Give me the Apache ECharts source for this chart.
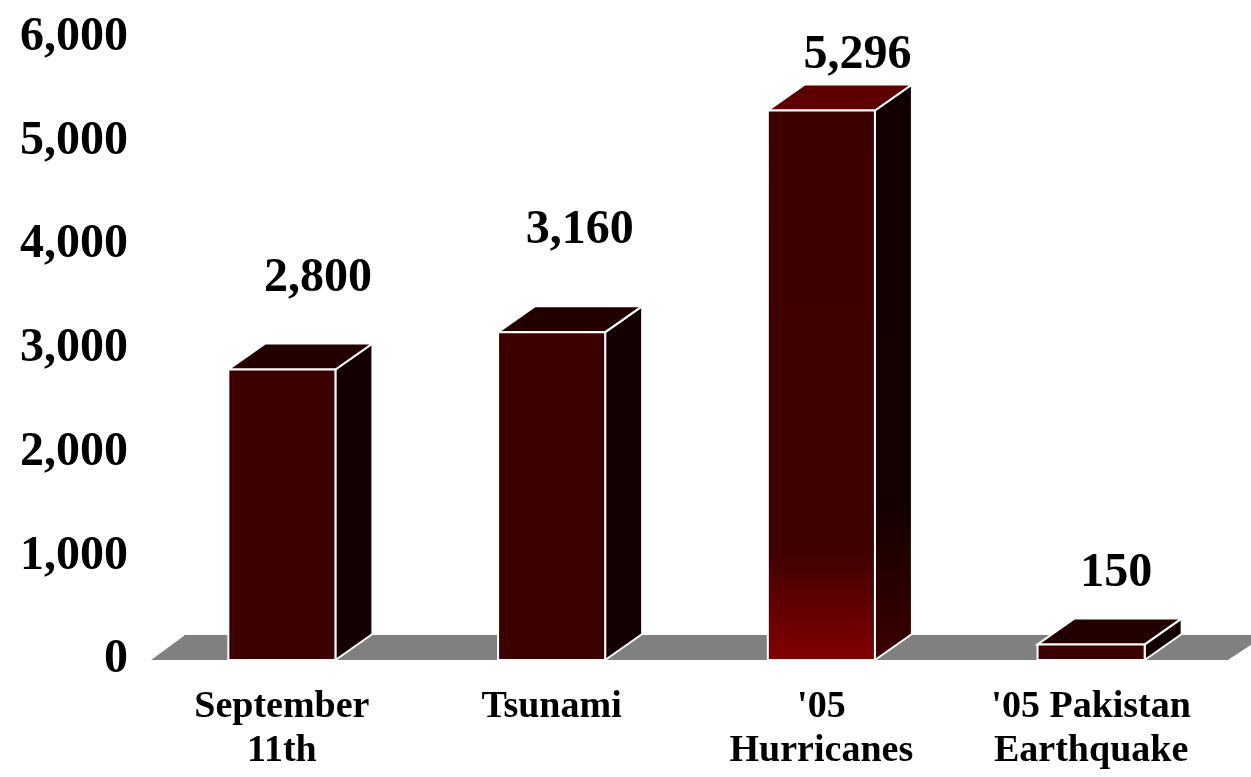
<!DOCTYPE html>
<html>
<head>
<meta charset="utf-8">
<script src="https://cdn.jsdelivr.net/npm/echarts@6/dist/echarts.min.js"></script>
<style>
html,body{margin:0;padding:0;background:#fff;}
#chart{width:1251px;height:777px;}
</style>
</head>
<body>
<div id="chart"></div>
<script>
// ---- data ----
const categories = ['September\n11th', 'Tsunami', "'05\nHurricanes", "'05 Pakistan\nEarthquake"];
const values = [2800, 3160, 5296, 150];
const yMin = 0, yMax = 6000, yStep = 1000;

// ---- styles ----
const FONT = '"Liberation Serif", "Times New Roman", serif';
const DEPTH_X = 37, DEPTH_Y = 26;
const labelLift = [91, 102, 55, 71];   // label distance above bar front top
const labelShift = [36, 28, 36, 25];   // label shift right of bar centre
const highlight = [false, false, true, false];

const chart = echarts.init(document.getElementById('chart'), null, {renderer: 'canvas'});

function fmt(v) { return v.toLocaleString('en-US'); }

function renderFloor(params, api) {
  const cs = params.coordSys;
  const x0 = cs.x, x1 = cs.x + cs.width, yb = cs.y + cs.height;
  return {
    type: 'group',
    children: [{
      type: 'polygon',
      shape: {points: [[x0 + 3, yb], [x0 + 3 + 34, yb - DEPTH_Y + 1], [x1 + 40, yb - DEPTH_Y + 1], [x1 + 2, yb]]},
      style: {fill: '#808080', stroke: null}
    }, {
      type: 'line',
      shape: {x1: x0 + 3, y1: yb, x2: x0 + 37, y2: yb - DEPTH_Y + 1},
      style: {stroke: '#ffffff', lineWidth: 1.5}
    }]
  };
}

function renderBar(params, api) {
  const i = params.dataIndex;
  const cat = api.value(0), val = api.value(1);
  const base = api.coord([cat, 0]);
  const top = api.coord([cat, val]);
  const bw = api.size([1, 0])[0] * 0.397;
  const xl = base[0] - bw / 2, xr = base[0] + bw / 2;
  const yb = base[1], yt = top[1];
  const dx = DEPTH_X, dy = DEPTH_Y;
  const hi = highlight[i];
  const frontFill = hi ? new echarts.graphic.LinearGradient(0, 0, 0, 1, [
    {offset: 0, color: '#3d0000'}, {offset: 0.8, color: '#3f0000'}, {offset: 1, color: '#820000'}
  ]) : '#3d0000';
  const sideFill = hi ? new echarts.graphic.LinearGradient(0, 0, 0, 1, [
    {offset: 0, color: '#120000'}, {offset: 0.72, color: '#150000'}, {offset: 1, color: '#3c0000'}
  ]) : '#130000';
  const topFill = hi ? '#5e0000' : '#230000';
  const stroke = '#ffffff';
  return {
    type: 'group',
    children: [{
      type: 'polygon',
      shape: {points: [[xr, yb], [xr + dx, yb - dy], [xr + dx, yt - dy], [xr, yt]]},
      style: {fill: sideFill, stroke: stroke, lineWidth: 2}
    }, {
      type: 'polygon',
      shape: {points: [[xl, yt], [xl + dx, yt - dy], [xr + dx, yt - dy], [xr, yt]]},
      style: {fill: topFill, stroke: stroke, lineWidth: 2}
    }, {
      type: 'rect',
      shape: {x: xl, y: yt, width: bw, height: yb - yt},
      style: {fill: frontFill, stroke: stroke, lineWidth: 2}
    }, {
      type: 'text',
      style: {
        text: fmt(val),
        x: base[0] + labelShift[i],
        y: yt - labelLift[i],
        align: 'center',
        verticalAlign: 'middle',
        fontSize: 48,
        fontWeight: 'bold',
        fontFamily: FONT,
        fill: '#000'
      }
    }]
  };
}

chart.setOption({
  animation: false,
  backgroundColor: '#ffffff',
  grid: {left: 147, right: 25, top: 37.5, bottom: 117, containLabel: false},
  xAxis: {
    type: 'category',
    data: categories,
    axisLine: {show: false},
    axisTick: {show: false},
    splitLine: {show: false},
    axisLabel: {
      interval: 0,
      margin: 25,
      verticalAlign: 'top',
      lineHeight: 44,
      fontSize: 38,
      fontWeight: 'bold',
      fontFamily: FONT,
      color: '#000'
    }
  },
  yAxis: {
    type: 'value',
    min: yMin, max: yMax, interval: yStep,
    axisLine: {show: false},
    axisTick: {show: false},
    splitLine: {show: false},
    axisLabel: {
      margin: 19,
      fontSize: 48,
      fontWeight: 'bold',
      fontFamily: FONT,
      color: '#000',
      formatter: v => fmt(v)
    }
  },
  series: [{
    type: 'custom',
    z: 1,
    renderItem: renderFloor,
    data: [[0, 0]],
    silent: true,
    clip: false
  }, {
    type: 'custom',
    z: 2,
    renderItem: renderBar,
    data: values.map((v, i) => [i, v]),
    encode: {x: 0, y: 1},
    clip: false
  }]
});
</script>
</body>
</html>
